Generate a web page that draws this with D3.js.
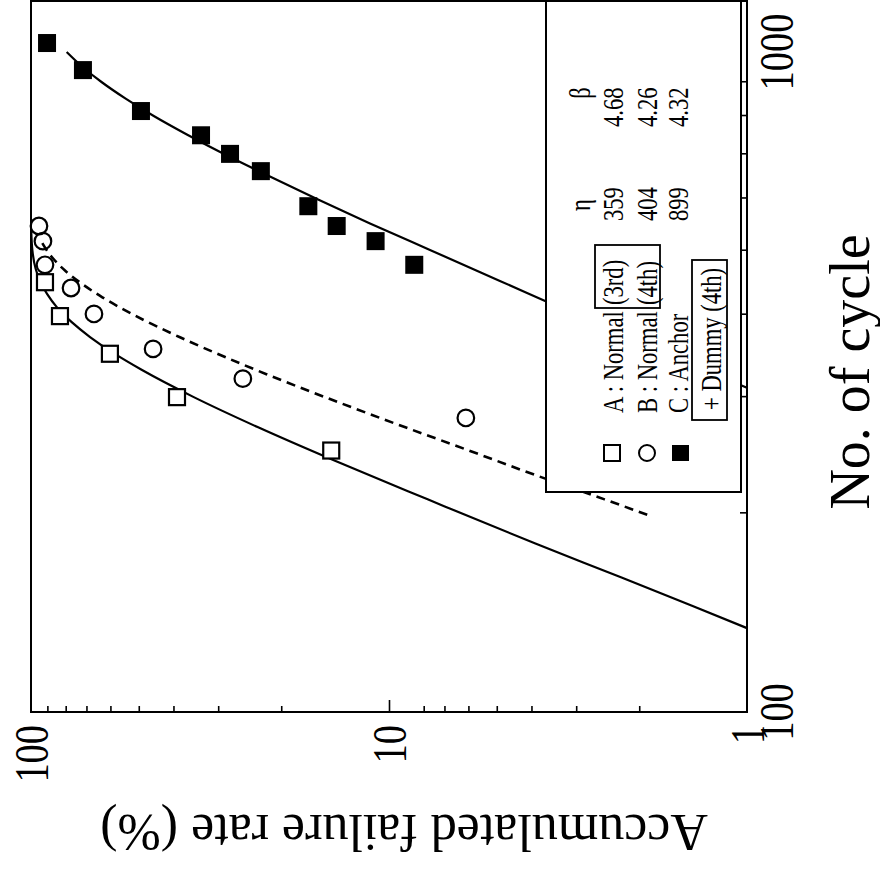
<!DOCTYPE html>
<html>
<head>
<meta charset="utf-8">
<script src="https://cdn.jsdelivr.net/npm/d3@7"></script>
<style>
  body { margin: 0; background: #fff; }
  svg { display: block; }
  text { font-family: "Liberation Serif", "Times New Roman", serif; fill: #000; }
</style>
</head>
<body>
<div id="chart"></div>
<script>
// ---- data (cycles, accumulated failure rate %) ----
const aCycles = [448, 398, 349, 300, 249];
const aRates  = [91.4, 83.0, 60.2, 39.1, 14.5];

const bCycles = [545, 517, 476, 439, 401, 355, 320, 279];
const bRates  = [95.0, 92.6, 91.4, 77.3, 66.7, 45.6, 25.6, 6.1];

const cCycles = [1032, 939, 814, 748, 701, 660, 584, 545, 517, 476];
const cRates  = [90.2, 71.6, 49.3, 33.5, 27.8, 22.8, 16.8, 14.0, 10.9, 8.5];

// fitted lines
const fitACycles = [134, 145, 160, 180, 210, 240, 270, 300, 330, 350, 370, 390, 410, 430, 450, 470, 500, 540];
const fitARates  = [1.0, 1.43, 2.25, 3.9, 7.8, 14.1, 23.2, 35.1, 49.1, 58.9, 68.4, 77.1, 84.5, 90.2, 94.4, 97.1, 99.1, 99.88];

const fitBCycles = [199, 210, 228, 250, 270, 300, 325, 345, 370, 400, 425, 445, 467, 490, 517];
const fitBRates  = [1.9, 2.5, 3.85, 6.1, 9.0, 15.1, 22.0, 28.7, 38.5, 51.8, 63.2, 71.9, 80.5, 87.7, 93.7];

const fitCCycles = [310, 350, 400, 450, 500, 550, 600, 650, 700, 750, 800, 850, 900, 950, 1000];
const fitCRates  = [1.0, 1.7, 3.0, 4.9, 7.6, 11.3, 16.0, 21.8, 28.8, 36.7, 45.4, 54.4, 63.4, 71.9, 79.5];

const cycleLabels = [100, 1000];
const cycleMinor  = [200, 300, 400, 500, 600, 700, 800, 900];
const rateLabels  = [100, 10, 1];
const rateMinor   = [90, 80, 70, 60, 50, 40, 30, 20, 8, 7, 6, 5, 4, 3, 2];

const legendNames = ["A : Normal", "B : Normal", "C : Anchor"];
const legendTags  = ["(3rd)", "(4th)"];
const legendEta   = ["359", "404", "899"];
const legendBeta  = ["4.68", "4.26", "4.32"];
const dummyLabel  = "+ Dummy (4th)";

const W = 880, H = 873;

const svg = d3.select("#chart").append("svg")
    .attr("width", W)
    .attr("height", H);

// the whole chart is turned a quarter turn counter-clockwise
const g = svg.append("g")
    .attr("transform", `translate(0,${H}) rotate(-90)`);

const x = d3.scaleLog().domain([100, 1195]).range([161, 872]);
const y = d3.scaleLog().domain([100, 1]).range([31, 747]);

const line = d3.line()
    .x(d => x(d[0]))
    .y(d => y(d[1]))
    .curve(d3.curveMonotoneX);

const zip = (a, b) => a.map((v, i) => [v, b[i]]);

// fitted lines
g.append("path").datum(zip(fitACycles, fitARates))
    .attr("d", line).attr("fill", "none")
    .attr("stroke", "#000").attr("stroke-width", 2.2);
g.append("path").datum(zip(fitBCycles, fitBRates))
    .attr("d", line).attr("fill", "none")
    .attr("stroke", "#000").attr("stroke-width", 2.6)
    .attr("stroke-dasharray", "9,6");
g.append("path").datum(zip(fitCCycles, fitCRates))
    .attr("d", line).attr("fill", "none")
    .attr("stroke", "#000").attr("stroke-width", 2.2);

// points
const sq = 16;
g.selectAll(".ptA").data(zip(aCycles, aRates)).enter()
    .append("rect")
    .attr("x", d => x(d[0]) - sq / 2)
    .attr("y", d => y(d[1]) - sq / 2)
    .attr("width", sq).attr("height", sq)
    .attr("fill", "#fff").attr("stroke", "#000").attr("stroke-width", 2.2);

g.selectAll(".ptB").data(zip(bCycles, bRates)).enter()
    .append("circle")
    .attr("cx", d => x(d[0]))
    .attr("cy", d => y(d[1]))
    .attr("r", 8.3)
    .attr("fill", "none").attr("stroke", "#000").attr("stroke-width", 2.2);

g.selectAll(".ptC").data(zip(cCycles, cRates)).enter()
    .append("rect")
    .attr("x", d => x(d[0]) - 9)
    .attr("y", d => y(d[1]) - 9)
    .attr("width", 18).attr("height", 18)
    .attr("fill", "#000");

// legend
const leg = g.append("g");
leg.append("rect")
    .attr("x", 381).attr("y", 546)
    .attr("width", 872 - 381).attr("height", 741 - 546)
    .attr("fill", "#fff").attr("stroke", "#000").attr("stroke-width", 2);

const rowY = [623, 657, 688];
const squish = (px, py) => `translate(${px},${py}) scale(0.78,1)`;

leg.selectAll(".name").data(legendNames).enter()
    .append("text")
    .attr("transform", (d, i) => squish(460, rowY[i]))
    .attr("font-size", 29)
    .text(d => d);
leg.selectAll(".tag").data(legendTags).enter()
    .append("text")
    .attr("transform", (d, i) => squish(568, rowY[i]))
    .attr("font-size", 29)
    .text(d => d);
leg.append("rect")
    .attr("x", 565).attr("y", 595).attr("width", 63).attr("height", 65)
    .attr("fill", "none").attr("stroke", "#000").attr("stroke-width", 1.8);

leg.selectAll(".eta").data(legendEta).enter()
    .append("text")
    .attr("transform", (d, i) => squish(652, rowY[i]))
    .attr("font-size", 29)
    .text(d => d);
leg.selectAll(".beta").data(legendBeta).enter()
    .append("text")
    .attr("transform", (d, i) => squish(746, rowY[i]))
    .attr("font-size", 29)
    .text(d => d);
leg.append("text").attr("transform", squish(668, 590))
    .attr("font-size", 29).attr("text-anchor", "middle").text("η");
leg.append("text").attr("transform", squish(780, 590))
    .attr("font-size", 29).attr("text-anchor", "middle").text("β");

// legend symbols
leg.append("rect").attr("x", 420 - 8).attr("y", rowY[0] - 11 - 8)
    .attr("width", 16).attr("height", 16)
    .attr("fill", "#fff").attr("stroke", "#000").attr("stroke-width", 2);
leg.append("circle").attr("cx", 420).attr("cy", rowY[1] - 10).attr("r", 8)
    .attr("fill", "none").attr("stroke", "#000").attr("stroke-width", 2);
leg.append("rect").attr("x", 420 - 8).attr("y", rowY[2] - 8 - 8)
    .attr("width", 16).attr("height", 17).attr("fill", "#000");

// dummy box
leg.append("rect")
    .attr("x", 453).attr("y", 692).attr("width", 160).attr("height", 35)
    .attr("fill", "none").attr("stroke", "#000").attr("stroke-width", 1.8);
leg.append("text").attr("transform", squish(463, 721))
    .attr("font-size", 29).text(dummyLabel);

// frame
g.append("rect")
    .attr("x", 161).attr("y", 31)
    .attr("width", 872 - 161).attr("height", 747 - 31)
    .attr("fill", "none").attr("stroke", "#000").attr("stroke-width", 2);

// cycle axis (right side of the picture)
const xAxis = g.append("g").attr("transform", "translate(0,747)")
    .call(d3.axisBottom(x).tickValues(cycleMinor).tickSize(-7).tickFormat(""));
xAxis.select(".domain").remove();
xAxis.selectAll("line").attr("stroke-width", 1.6);

g.selectAll(".xlab").data(cycleLabels).enter()
    .append("text")
    .attr("transform", d => `translate(${x(d)},793) scale(0.8,1)`)
    .attr("text-anchor", "middle")
    .attr("font-size", 48)
    .text(d => d);

// failure-rate axis (bottom of the picture)
const yAxis = g.append("g").attr("transform", "translate(161,0)")
    .call(d3.axisLeft(y).tickValues(rateMinor).tickSize(-6).tickFormat(""));
yAxis.select(".domain").remove();
yAxis.selectAll("line").attr("stroke-width", 1.6);
const yMajor = g.append("g").attr("transform", "translate(161,0)")
    .call(d3.axisLeft(y).tickValues([10]).tickSize(-12).tickFormat(""));
yMajor.select(".domain").remove();
yMajor.selectAll("line").attr("stroke-width", 1.6);

g.selectAll(".ylab").data(rateLabels).enter()
    .append("text")
    .attr("transform", d => `translate(148,${y(d)}) scale(0.8,1)`)
    .attr("text-anchor", "end")
    .attr("dominant-baseline", "central")
    .attr("font-size", 48)
    .text(d => d);

// axis titles
g.append("text")
    .attr("transform", "translate(501,869)")
    .attr("text-anchor", "middle")
    .attr("font-size", 56)
    .text("No. of cycle");

g.append("text")
    .attr("transform", "translate(58,404) rotate(-90)")
    .attr("text-anchor", "middle")
    .attr("font-size", 52)
    .text("Accumulated failure rate (%)");
</script>
</body>
</html>
